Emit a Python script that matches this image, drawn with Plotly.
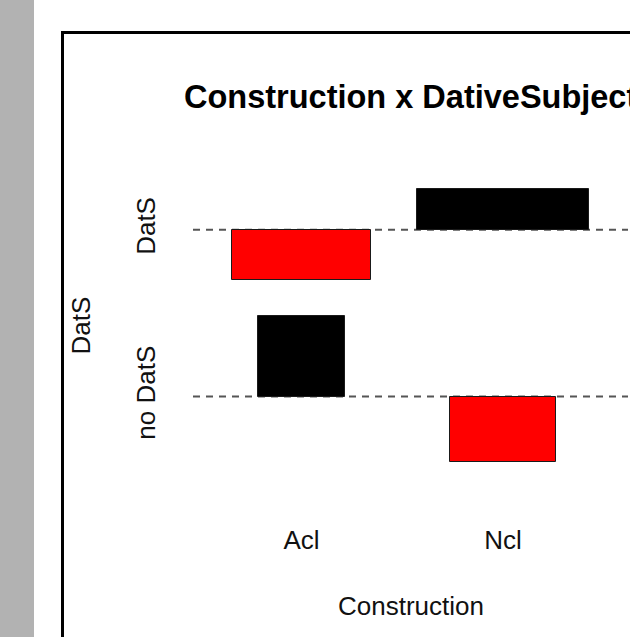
import numpy as np
import plotly.graph_objects as go

# Contingency table: Construction (rows) x DativeSubject (columns)
constructions = ["Acl", "Ncl"]
dative_levels = ["DatS", "no DatS"]
counts_acl = [37, 42]
counts_ncl = [107, 14]

title_text = "Construction x DativeSubject"
x_title = "Construction"
y_title = "DatS"

# ---- association plot geometry (Cohen-Friendly style) ----
space = 0.3
obs = np.array([counts_acl, counts_ncl], dtype=float)
f = obs[:, ::-1]                      # bottom-to-top: "no DatS", "DatS"
row_levels = dative_levels[::-1]
n = f.sum()
expected = np.outer(f.sum(axis=1), f.sum(axis=0)) / n
resid = (f - expected) / np.sqrt(expected)
widths = np.sqrt(expected)

x_w = widths.max(axis=1)
y_h = resid.max(axis=0) - resid.min(axis=0)
x_delta = x_w.mean() * space
y_delta = y_h.mean() * space
xr = [0.0, x_w.sum() + f.shape[0] * x_delta]
yr = [0.0, y_h.sum() + f.shape[1] * y_delta]
xm = np.cumsum(x_w + x_delta) - x_w / 2 - x_delta / 2
ym = np.cumsum(y_h + y_delta) - y_h / 2 - y_delta / 2
baselines = ym - (resid.max(axis=0) + resid.min(axis=0)) / 2


def padded(r, frac=0.04):
    d = r[1] - r[0]
    return [r[0] - frac * d, r[1] + frac * d]


x_range = padded(xr)
y_range = padded(yr)

# figure frame (pixels)
W, H = 630, 637
L, R, T, B = 193, 2, 159, 145
PW, PH = W - L - R, H - T - B


def px_x(p):
    return (p - L) / PW


def px_y(p):
    return (H - B - p) / PH


bx, by, bw, bb, colors = [], [], [], [], []
for i in range(f.shape[0]):
    for j in range(f.shape[1]):
        bx.append(xm[i])
        by.append(resid[i, j])
        bw.append(widths[i, j])
        bb.append(baselines[j])
        colors.append("#000000" if resid[i, j] > 0 else "#ff0000")

fig = go.Figure()
fig.add_trace(go.Bar(
    x=bx, y=by, base=bb, width=bw,
    marker=dict(color=colors, line=dict(color="#1a1a1a", width=1)),
    hoverinfo="skip", showlegend=False,
))

shapes = [
    # grey strip on the left edge
    dict(type="rect", xref="paper", yref="paper",
         x0=px_x(-5), x1=px_x(34), y0=px_y(H + 5), y1=px_y(-5),
         fillcolor="#b2b2b2", line=dict(width=0), layer="below"),
    # outer frame
    dict(type="rect", xref="paper", yref="paper",
         x0=px_x(62.5), x1=px_x(W + 40), y0=px_y(H + 40), y1=px_y(32.5),
         fillcolor="rgba(0,0,0,0)", line=dict(color="#000000", width=3),
         layer="above"),
]
for yb in baselines:
    shapes.append(dict(type="line", xref="paper", yref="y",
                       x0=0, x1=1, y0=yb, y1=yb,
                       line=dict(color="#555555", width=2, dash="7px,6px"),
                       layer="below"))

font_family = "Liberation Sans, Arial, sans-serif"
annotations = [
    dict(text="<b>%s</b>" % title_text, xref="paper", yref="paper",
         x=0.5, y=px_y(97), xanchor="center", yanchor="middle",
         showarrow=False, font=dict(family=font_family, size=32.5, color="#000000")),
    dict(text=x_title, xref="paper", yref="paper",
         x=0.5, y=px_y(606), xanchor="center", yanchor="middle",
         showarrow=False, font=dict(family=font_family, size=26, color="#111111")),
    dict(text=y_title, xref="paper", yref="paper",
         x=px_x(80), y=0.5, xanchor="center", yanchor="middle", textangle=-90,
         showarrow=False, font=dict(family=font_family, size=26, color="#111111")),
]

fig.update_layout(
    width=W, height=H,
    margin=dict(l=L, r=R, t=T, b=B, pad=0),
    paper_bgcolor="#ffffff", plot_bgcolor="#ffffff",
    barmode="overlay", bargap=0,
    shapes=shapes, annotations=annotations,
    font=dict(family=font_family, size=26, color="#111111"),
    xaxis=dict(range=x_range, tickvals=list(xm), ticktext=constructions,
               showgrid=False, zeroline=False, showline=False, ticks="",
               ticklabelstandoff=30, fixedrange=True),
    yaxis=dict(range=y_range, tickvals=list(baselines), ticktext=row_levels,
               tickangle=-90, showgrid=False, zeroline=False, showline=False,
               ticks="", ticklabelstandoff=32, fixedrange=True),
)

fig.write_html("out.html")
